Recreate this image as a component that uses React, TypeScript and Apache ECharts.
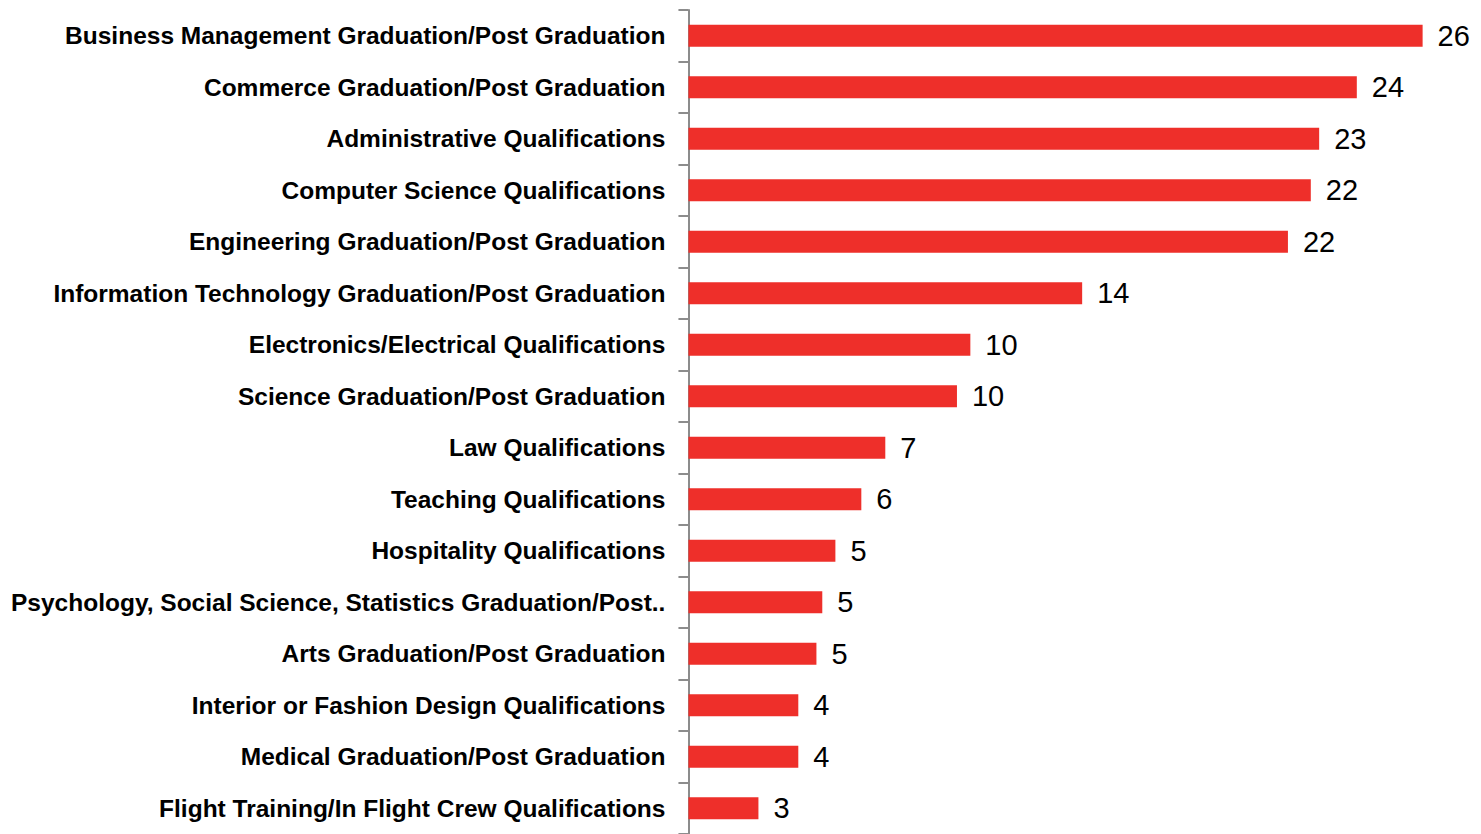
import React, { useEffect, useRef } from "react";
import * as echarts from "echarts";

const categories = [
  "Business Management Graduation/Post Graduation",
  "Commerce Graduation/Post Graduation",
  "Administrative Qualifications",
  "Computer Science Qualifications",
  "Engineering Graduation/Post Graduation",
  "Information Technology Graduation/Post Graduation",
  "Electronics/Electrical Qualifications",
  "Science Graduation/Post Graduation",
  "Law Qualifications",
  "Teaching Qualifications",
  "Hospitality Qualifications",
  "Psychology, Social Science, Statistics Graduation/Post..",
  "Arts Graduation/Post Graduation",
  "Interior or Fashion Design Qualifications",
  "Medical Graduation/Post Graduation",
  "Flight Training/In Flight Crew Qualifications",
];

const values = [
  26.33, 23.97, 22.62, 22.32, 21.5, 14.12, 10.11, 9.63, 7.06, 6.2, 5.27, 4.8, 4.59, 3.94, 3.94, 2.51,
];

const axisMax = 27;

export default function App() {
  const ref = useRef<HTMLDivElement>(null);
  useEffect(() => {
    if (!ref.current) return;
    const chart = echarts.init(ref.current, undefined, { renderer: "svg" });
    chart.setOption({
      animation: false,
      grid: { left: 680, top: 2, width: 753.3, height: 828 },
      xAxis: {
        type: "value",
        min: 0,
        max: axisMax,
        show: false,
      },
      yAxis: {
        type: "category",
        inverse: true,
        data: categories,
        axisLine: { show: true, lineStyle: { color: "#8c8c8c", width: 2 } },
        axisTick: { show: true, length: 10, lineStyle: { color: "#8c8c8c", width: 2 } },
        axisLabel: {
          color: "#000",
          fontFamily: "Liberation Sans, Arial, sans-serif",
          fontWeight: "bold",
          fontSize: 24.5,
          margin: 23,
        },
      },
      series: [
        {
          type: "bar",
          data: values,
          barWidth: 22,
          itemStyle: { color: "#ee2f2a" },
          label: {
            show: true,
            position: "right",
            distance: 15,
            color: "#000",
            fontFamily: "Liberation Sans, Arial, sans-serif",
            fontSize: 29,
            formatter: (p: any) => String(Math.round(p.value)),
          },
        },
      ],
    });
    return () => chart.dispose();
  }, []);
  return <div ref={ref} style={{ width: 1473, height: 826 }} />;
}
